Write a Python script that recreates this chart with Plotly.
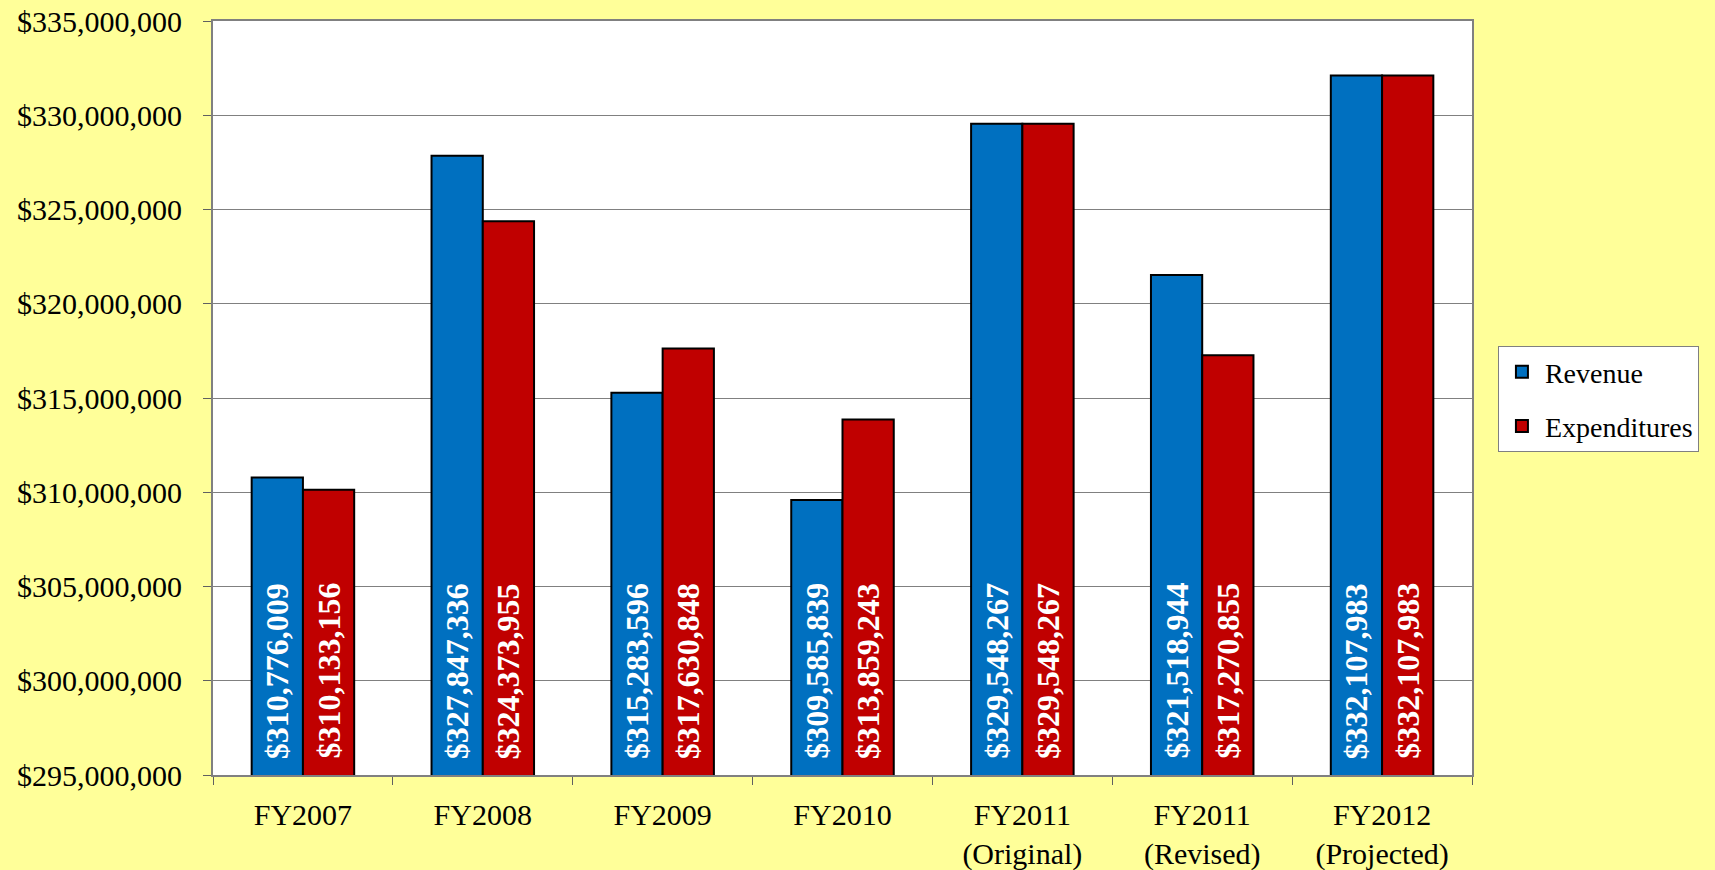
import plotly.graph_objects as go

categories = ["FY2007", "FY2008", "FY2009", "FY2010",
              "FY2011<br>(Original)", "FY2011<br>(Revised)", "FY2012<br>(Projected)"]
revenue = [310776009, 327847336, 315283596, 309585839, 329548267, 321518944, 332107983]
expenditures = [310133156, 324373955, 317630848, 313859243, 329548267, 317270855, 332107983]
y_min, y_max, y_step = 295000000, 335000000, 5000000

FONT = "Liberation Serif, Times New Roman, serif"

def fmt(v):
    return "$" + f"{v:,}"

series = [("Revenue", revenue, "#0070C0"), ("Expenditures", expenditures, "#C00000")]

fig = go.Figure()
for name, vals, color in series:
    fig.add_trace(go.Bar(
        x=categories, y=vals, name=name, legendgroup=name,
        marker=dict(color=color, line=dict(color="black", width=2)),
    ))

# plot-area geometry for label offsets
W, H = 1715, 870
ML, MR, MT, MB = 213, 243, 21, 95
BARGAP = 0.43
cat_w = (W - ML - MR) / len(categories)
bar_w = cat_w * (1 - BARGAP) / 2
for i, (name, vals, color) in enumerate(series):
    shift = (i - 0.5) * bar_w
    for c, v in zip(categories, vals):
        fig.add_annotation(
            x=c, y=y_min, xref="x", yref="y", text=fmt(v),
            textangle=-90, showarrow=False, xanchor="center", yanchor="bottom",
            xshift=shift, yshift=15, borderpad=0,
            font=dict(family=FONT, size=32, color="white", weight="bold"),
        )

fig.update_layout(
    width=W, height=H,
    margin=dict(l=ML, r=MR, t=MT, b=MB, autoexpand=False),
    paper_bgcolor="#FFFF99", plot_bgcolor="white",
    barmode="group", bargap=BARGAP, bargroupgap=0,
    font=dict(family=FONT, size=30, color="black"),
    legend=dict(x=1.0206, y=0.569, xanchor="left", yanchor="top",
                bgcolor="white", bordercolor="#808080", borderwidth=1,
                font=dict(family=FONT, size=28), tracegroupgap=15,
                traceorder="grouped", entrywidth=230, itemwidth=36),
    showlegend=True,
)
fig.update_xaxes(type="category", tickson="boundaries", ticks="outside", ticklen=8,
                 tickcolor="#606060", showline=True, linecolor="#808080", linewidth=2,
                 mirror=True, ticklabelstandoff=12, tickfont=dict(size=30),
                 automargin=False)
fig.update_yaxes(range=[y_min, y_max], dtick=y_step, tickformat="$,.0f",
                 ticks="outside", ticklen=8, tickcolor="#606060",
                 showline=True, linecolor="#808080", linewidth=2, mirror=True,
                 showgrid=True, gridcolor="#808080", gridwidth=1,
                 ticklabelstandoff=15, zeroline=False, tickfont=dict(size=30),
                 automargin=False)

fig.write_html("out.html")
